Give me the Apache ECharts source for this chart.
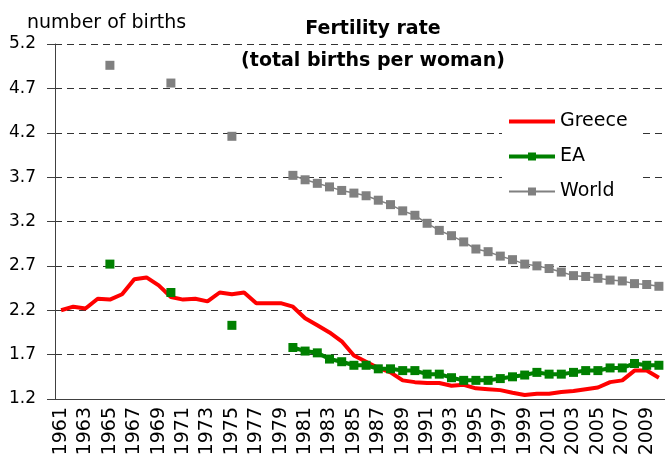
<!DOCTYPE html>
<html>
<head>
<meta charset="utf-8">
<script src="https://cdn.jsdelivr.net/npm/echarts@6/dist/echarts.min.js"></script>
<style>
  html, body { margin: 0; padding: 0; background: #fff; }
  #chart { width: 665px; height: 468px; }
</style>
</head>
<body>
<div id="chart"></div>
<script>
const years = [
  '1961', '1962', '1963', '1964', '1965', '1966', '1967', '1968', '1969', '1970',
  '1971', '1972', '1973', '1974', '1975', '1976', '1977', '1978', '1979', '1980',
  '1981', '1982', '1983', '1984', '1985', '1986', '1987', '1988', '1989', '1990',
  '1991', '1992', '1993', '1994', '1995', '1996', '1997', '1998', '1999', '2000',
  '2001', '2002', '2003', '2004', '2005', '2006', '2007', '2008', '2009', '2010'
];

const greece = [
  2.20, 2.24, 2.22, 2.33, 2.32, 2.38, 2.55, 2.57, 2.48, 2.35,
  2.32, 2.33, 2.30, 2.40, 2.38, 2.40, 2.28, 2.28, 2.28, 2.24,
  2.11, 2.03, 1.95, 1.85, 1.69, 1.62, 1.55, 1.50, 1.41, 1.39,
  1.38, 1.38, 1.35, 1.36, 1.32, 1.31, 1.30, 1.27, 1.245, 1.26,
  1.26, 1.28, 1.29, 1.31, 1.33, 1.39, 1.41, 1.52, 1.52, 1.44
];

const ea = [
  null, null, null, null, 2.72, null, null, null, null, 2.40,
  null, null, null, null, 2.03, null, null, null, null, 1.78,
  1.74, 1.72, 1.65, 1.62, 1.58, 1.58, 1.54, 1.54, 1.52, 1.52,
  1.48, 1.48, 1.44, 1.41, 1.41, 1.41, 1.43, 1.45, 1.47, 1.50,
  1.48, 1.48, 1.50, 1.52, 1.52, 1.55, 1.55, 1.60, 1.58, 1.58
];

const world = [
  null, null, null, null, 4.96, null, null, null, null, 4.76,
  null, null, null, null, 4.16, null, null, null, null, 3.72,
  3.67, 3.63, 3.59, 3.55, 3.52, 3.49, 3.44, 3.39, 3.32, 3.27,
  3.18, 3.10, 3.04, 2.97, 2.89, 2.86, 2.81, 2.77, 2.72, 2.70,
  2.67, 2.63, 2.59, 2.58, 2.56, 2.54, 2.53, 2.50, 2.49, 2.47
];

const font = 'DejaVu Sans';
const chart = echarts.init(document.getElementById('chart'));

const option = {
  animation: false,
  backgroundColor: '#fff',
  title: [
    {
      text: 'Fertility rate\n(total births per woman)',
      left: 368,
      top: 8,
      textAlign: 'center',
      textStyle: {
        fontFamily: font,
        fontSize: 19,
        fontWeight: 'bold',
        color: '#000',
        lineHeight: 32
      }
    },
    {
      text: 'number of births',
      left: 22,
      top: 9,
      textStyle: {
        fontFamily: font,
        fontSize: 19,
        fontWeight: 'normal',
        color: '#000'
      }
    }
  ],
  legend: {
    orient: 'vertical',
    left: 502,
    top: 102,
    padding: [10, 12, 6, 5],
    itemWidth: 46,
    itemHeight: 10,
    itemGap: 16,
    backgroundColor: '#fff',
    data: [
      { name: 'Greece', icon: 'path://M0,0H46V4H0Z' },
      { name: 'EA', lineStyle: { width: 4 } },
      'World'
    ],
    textStyle: {
      fontFamily: font,
      fontSize: 19,
      color: '#000'
    }
  },
  grid: {
    left: 55,
    right: 0,
    top: 44,
    bottom: 69
  },
  xAxis: {
    type: 'category',
    data: years,
    boundaryGap: true,
    axisLine: { lineStyle: { color: '#404040', width: 1 } },
    axisTick: { interval: 1, length: 6, lineStyle: { color: '#404040' } },
    axisLabel: {
      interval: 1,
      rotate: 90,
      margin: 8,
      fontFamily: font,
      fontSize: 19,
      color: '#000'
    },
    splitLine: { show: false }
  },
  yAxis: {
    type: 'value',
    min: 1.2,
    max: 5.2,
    interval: 0.5,
    axisLine: { show: true, lineStyle: { color: '#404040', width: 1 } },
    axisTick: { show: true, length: 8, lineStyle: { color: '#404040' } },
    axisLabel: {
      margin: 19,
      fontFamily: font,
      fontSize: 17,
      color: '#000',
      formatter: function (v) { return v.toFixed(1); }
    },
    splitLine: {
      show: true,
      lineStyle: { color: '#333', width: 1, type: [7, 5] }
    }
  },
  series: [
    {
      name: 'Greece',
      type: 'line',
      data: greece,
      color: '#ff0000',
      symbol: 'none',
      lineStyle: { width: 4, color: '#ff0000' }
    },
    {
      name: 'EA',
      type: 'line',
      data: ea,
      color: '#008000',
      symbol: 'rect',
      symbolSize: 9,
      showAllSymbol: true,
      connectNulls: false,
      lineStyle: { width: 4, color: '#008000' },
      itemStyle: { color: '#008000' }
    },
    {
      name: 'World',
      type: 'line',
      data: world,
      color: '#808080',
      symbol: 'rect',
      symbolSize: 9,
      showAllSymbol: true,
      connectNulls: false,
      lineStyle: { width: 1.5, color: '#808080' },
      itemStyle: { color: '#808080' }
    }
  ]
};

chart.setOption(option);
</script>
</body>
</html>
